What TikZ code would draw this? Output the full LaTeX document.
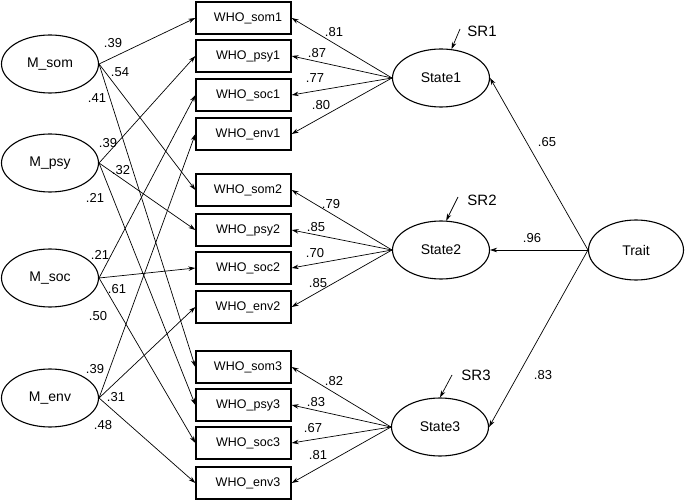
\documentclass[tikz,border=0pt]{standalone}
\usepackage{fontspec}
\setmainfont{Liberation Sans}
\usetikzlibrary{shapes.geometric,arrows.meta}
\begin{document}
\begin{tikzpicture}[x=1pt,y=-1pt,
 lat/.style={ellipse,draw,line width=1.1pt,minimum width=97pt,minimum height=58pt,inner sep=0pt,font=\fontsize{14}{16}\selectfont},
 obs/.style={rectangle,draw,line width=1.3pt,minimum width=95pt,minimum height=32pt,inner sep=0pt,font=\fontsize{12.5}{14}\selectfont,execute at begin node={\hspace*{9pt}}},
 arr/.style={-{Stealth[length=7pt,width=4.5pt]},line width=0.7pt},
 coef/.style={font=\fontsize{13}{15}\selectfont,inner sep=0pt},
 srl/.style={font=\fontsize{15}{17}\selectfont,inner sep=0pt}]
\useasboundingbox (0,0) rectangle (685,502);
% exogenous latent variables
\node[lat] (msom) at (50,64) {M\_som};
\node[lat] (mpsy) at (50,163) {M\_psy};
\node[lat] (msoc) at (50,278) {M\_soc};
\node[lat] (menv) at (50,398) {M\_env};
% observed
\node[obs] (som1) at (243.5,18) {WHO\_som1};
\node[obs] (psy1) at (243.5,56) {WHO\_psy1};
\node[obs] (soc1) at (243.5,95) {WHO\_soc1};
\node[obs] (env1) at (243.5,134) {WHO\_env1};
\node[obs] (som2) at (243.5,190) {WHO\_som2};
\node[obs] (psy2) at (243.5,230) {WHO\_psy2};
\node[obs] (soc2) at (243.5,268) {WHO\_soc2};
\node[obs] (env2) at (243.5,307) {WHO\_env2};
\node[obs] (som3) at (243.5,367) {WHO\_som3};
\node[obs] (psy3) at (243.5,405) {WHO\_psy3};
\node[obs] (soc3) at (243.5,443) {WHO\_soc3};
\node[obs] (env3) at (243.5,483) {WHO\_env3};
% states and trait
\node[lat] (st1) at (441,78) {State1};
\node[lat] (st2) at (441,250) {State2};
\node[lat] (st3) at (440,427) {State3};
\node[lat,minimum width=95pt,minimum height=60pt] (trait) at (636,250) {Trait};
% SR labels
\node[srl] (sr1) at (482,31) {SR1};
\node[srl] (sr2) at (482,200) {SR2};
\node[srl] (sr3) at (476,375) {SR3};
\coordinate (sr1a) at (460,29);
\coordinate (sr2a) at (458,197);
\coordinate (sr3a) at (452,375);
\draw[arr] (sr1a) -- (st1.70);
\draw[arr] (sr2a) -- (st2.80);
\draw[arr] (sr3a) -- (st3.90);
% method paths
\draw[arr] (msom.east) -- (som1.west);
\draw[arr] (msom.east) -- (som2.west);
\draw[arr] (msom.east) -- (som3.west);
\draw[arr] (mpsy.east) -- (psy1.west);
\draw[arr] (mpsy.east) -- (psy2.west);
\draw[arr] (mpsy.east) -- (psy3.west);
\draw[arr] (msoc.east) -- (soc1.west);
\draw[arr] (msoc.east) -- (soc2.west);
\draw[arr] (msoc.east) -- (soc3.west);
\draw[arr] (menv.east) -- (env1.west);
\draw[arr] (menv.east) -- (env2.west);
\draw[arr] (menv.east) -- (env3.west);
% state loadings
\foreach \b in {som1,psy1,soc1,env1} \draw[arr] (st1.west) -- (\b.east);
\foreach \b in {som2,psy2,soc2,env2} \draw[arr] (st2.west) -- (\b.east);
\foreach \b in {som3,psy3,soc3,env3} \draw[arr] (st3.west) -- (\b.east);
% trait paths
\draw[arr] (trait.west) -- (st1.east);
\draw[arr] (trait.west) -- (st2.east);
\draw[arr] (trait.west) -- (st3.east);
% coefficients left
\node[coef] (c1) at (113,43) {.39};
\node[coef] (c2) at (120,72) {.54};
\node[coef] (c3) at (97,98) {.41};
\node[coef] (c4) at (108,143) {.39};
\node[coef] (c5) at (121,170) {.32};
\node[coef] (c6) at (95,198) {.21};
\node[coef] (c7) at (100,255) {.21};
\node[coef] (c8) at (117,289) {.61};
\node[coef] (c9) at (98,316) {.50};
\node[coef] (c10) at (95,369) {.39};
\node[coef] (c11) at (116,397) {.31};
\node[coef] (c12) at (103,425) {.48};
% coefficients right
\node[coef] (d1) at (334,32) {.81};
\node[coef] (d2) at (317,53) {.87};
\node[coef] (d3) at (315,78) {.77};
\node[coef] (d4) at (321,105) {.80};
\node[coef] (d5) at (331,204) {.79};
\node[coef] (d6) at (316,227) {.85};
\node[coef] (d7) at (315,253) {.70};
\node[coef] (d8) at (318,283) {.85};
\node[coef] (d9) at (334,381) {.82};
\node[coef] (d10) at (316,402) {.83};
\node[coef] (d11) at (313,428) {.67};
\node[coef] (d12) at (318,455) {.81};
\node[coef] (t1) at (547,142) {.65};
\node[coef] (t2) at (532,238) {.96};
\node[coef] (t3) at (543,375) {.83};
\end{tikzpicture}
\end{document}
